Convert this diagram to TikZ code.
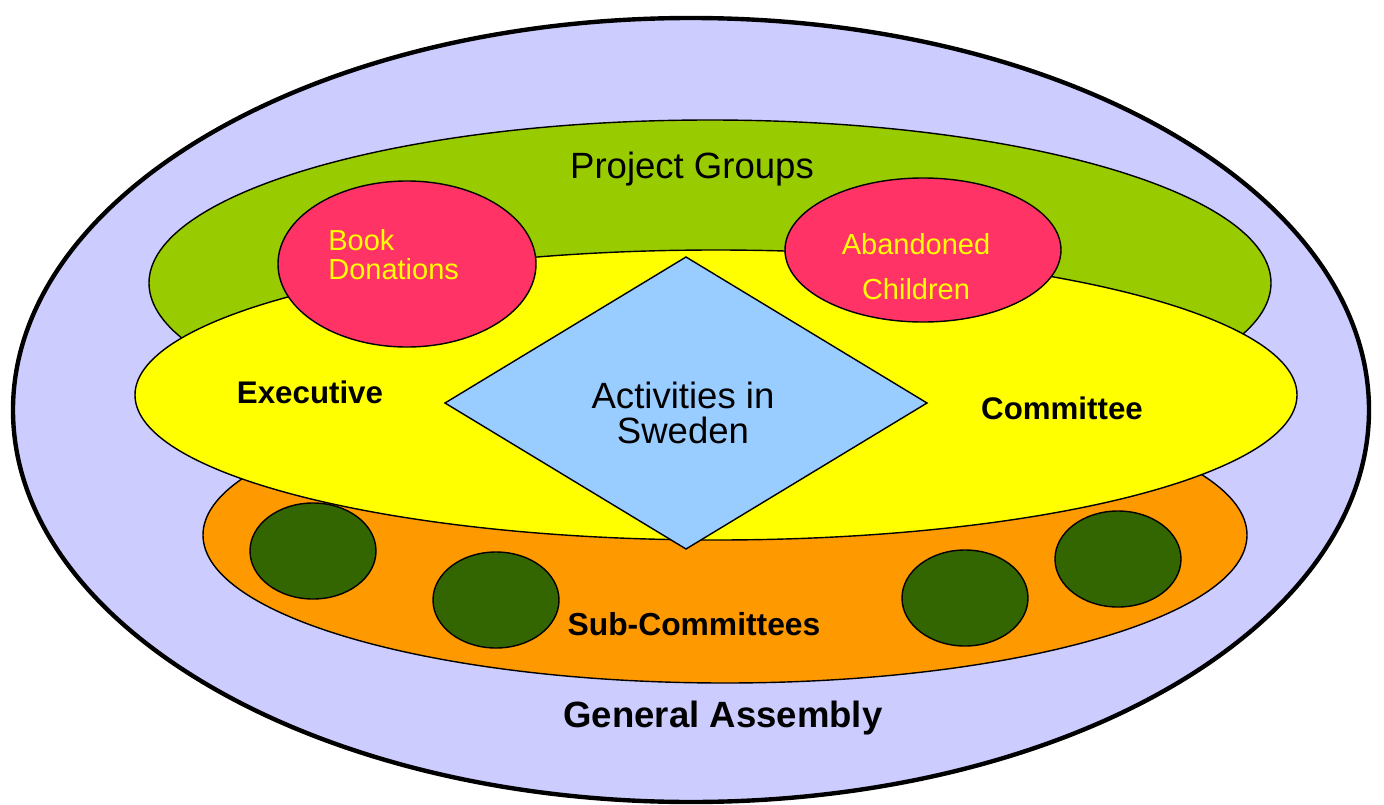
\documentclass[tikz,border=0pt]{standalone}
\usepackage{fontspec}
\setmainfont{Liberation Sans}
\definecolor{assembly}{HTML}{CCCCFF}
\definecolor{projects}{HTML}{99CC00}
\definecolor{executive}{HTML}{FFFF00}
\definecolor{subcomm}{HTML}{FF9900}
\definecolor{project}{HTML}{FF3366}
\definecolor{sweden}{HTML}{99CCFF}
\definecolor{subgroup}{HTML}{336600}

\begin{document}
\begin{tikzpicture}[x=0.02cm,y=-0.02cm,
    blob/.style={draw=black, line width=0.8pt},
    biglabel/.style={font=\fontsize{20.8}{20}\selectfont},
    boldlabel/.style={font=\fontsize{17.8}{20}\selectfont\bfseries},
    projlabel/.style={text=executive, inner sep=0pt}]

\useasboundingbox (0,0) rectangle (1384,805);

\draw[line width=2.5pt, fill=assembly] (691,410) ellipse (678 and 392);
\draw[blob, fill=projects] (710,283) ellipse (561 and 163);
\draw[blob, fill=subcomm] (725,535) ellipse (522 and 148);
\draw[blob, fill=executive] (716,395) ellipse (581 and 145);

\draw[blob, fill=project] (407,264) ellipse (129 and 83);
\draw[blob, fill=project] (923,250) ellipse (138 and 72);

\draw[blob, fill=sweden] (686,257) -- (927,403) -- (686,549) -- (445,403) -- cycle;

\foreach \cx/\cy in {313/551, 496/600, 965/598, 1118/559} {
    \draw[blob, fill=subgroup] (\cx,\cy) ellipse (63 and 48);
}

\node[biglabel, anchor=base] (groups) at (692,178) {Project Groups};
\node[projlabel, anchor=west, align=left,
      font=\fontsize{16.5}{16.5}\selectfont] (books) at (328,254.5) {Book\\Donations};
\node[projlabel, anchor=center, align=center,
      font=\fontsize{16.5}{25.5}\selectfont] (children) at (916,266.5) {Abandoned\\Children};
\node[biglabel, align=center, inner sep=0pt,
      font=\fontsize{20.8}{19.8}\selectfont] (activities) at (683,413) {Activities in\\Sweden};
\node[boldlabel, anchor=base] (exec) at (310,403) {Executive};
\node[boldlabel, anchor=base] (comm) at (1062,419) {Committee};
\node[boldlabel, anchor=base, font=\fontsize{18.1}{20}\selectfont\bfseries] (subs) at (694,635) {Sub-Committees};
\node[boldlabel, anchor=base, font=\fontsize{20.8}{22}\selectfont\bfseries] (general) at (723,727) {General Assembly};

\end{tikzpicture}
\end{document}
